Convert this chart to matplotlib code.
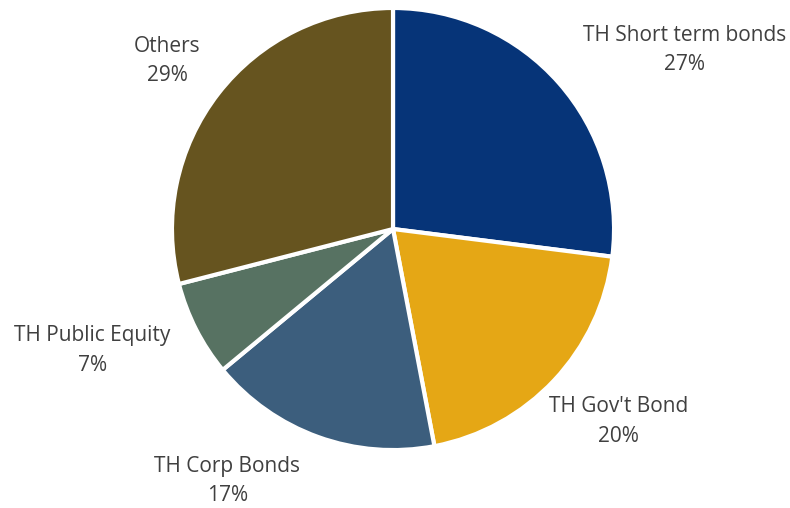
import matplotlib.pyplot as plt

categories = ["TH Short term bonds", "TH Gov't Bond", "TH Corp Bonds",
              "TH Public Equity", "Others"]
shares = [27, 20, 17, 7, 29]
colors = ["#063478", "#E5A715", "#3C5E7D", "#577262", "#66541F"]

# label anchor points, in units of the pie radius
label_pos = [(1.32, 0.81), (1.02, -0.87), (-0.75, -1.14), (-1.36, -0.55), (-1.02, 0.76)]

fig = plt.figure(figsize=(7.9, 5.08), dpi=100)
ax = fig.add_axes([0, 0, 1, 1])
ax.pie(shares, colors=colors, startangle=90, counterclock=False, radius=1.0,
       wedgeprops=dict(edgecolor="white", linewidth=3))

for name, val, (x, y) in zip(categories, shares, label_pos):
    ax.text(x, y, "{}\n{}%".format(name, val), ha="center", va="center",
            fontsize=15, color="#404040", family="Open Sans", linespacing=1.55)

ax.set_xlim(-1.778, 1.796)
ax.set_ylim(-1.262, 1.036)
ax.set_aspect("equal")
ax.axis("off")
fig.savefig("out.png", dpi=100)
